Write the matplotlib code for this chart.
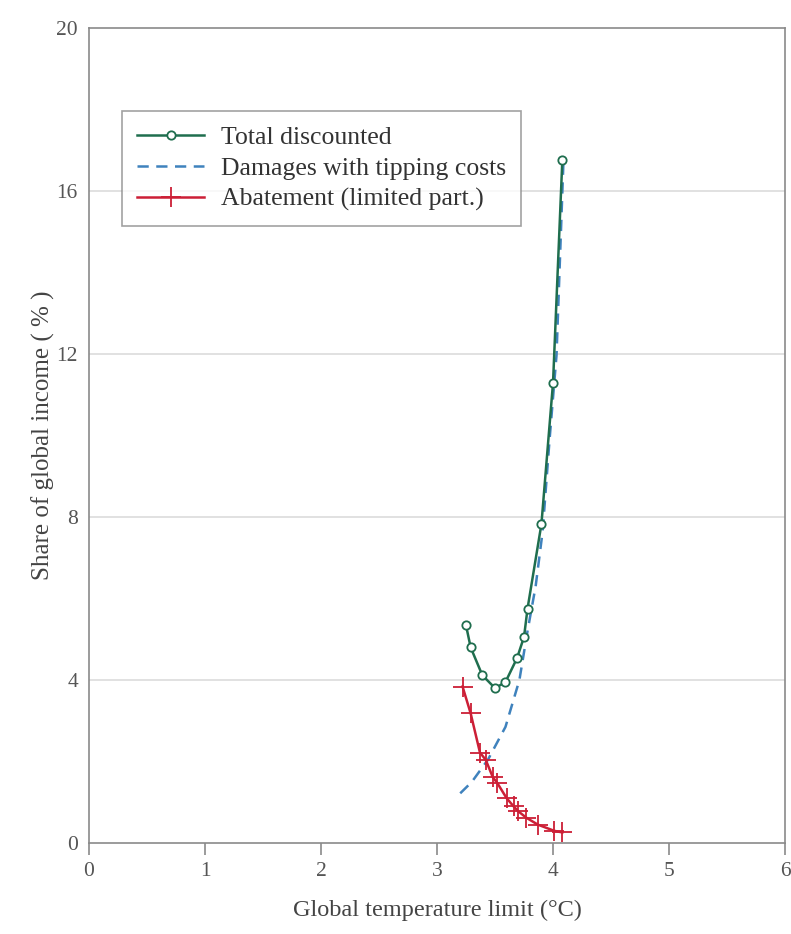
import numpy as np
import matplotlib
matplotlib.use("Agg")
import matplotlib.pyplot as plt

# 数据
total_x = [3.25, 3.29, 3.39, 3.50, 3.59, 3.69, 3.75, 3.78, 3.90, 4.00, 4.08]
total_y = [5.34, 4.80, 4.12, 3.80, 3.95, 4.54, 5.06, 5.75, 7.83, 11.30, 16.75]

damage_x = [3.20, 3.30, 3.44, 3.59, 3.71, 3.78, 3.85, 3.91, 3.97, 4.03, 4.09]
damage_y = [1.22, 1.50, 2.05, 2.85, 4.00, 5.20, 6.30, 7.64, 9.90, 11.97, 16.75]

abate_x = [3.22, 3.29, 3.37, 3.42, 3.48, 3.52, 3.60, 3.66, 3.70, 3.77, 3.87, 4.01, 4.08]
abate_y = [3.84, 3.18, 2.22, 2.04, 1.62, 1.47, 1.10, 0.90, 0.78, 0.62, 0.45, 0.30, 0.26]

x_ticks = [0, 1, 2, 3, 4, 5, 6]
y_ticks = [0, 4, 8, 12, 16, 20]

plt.rcParams['font.family'] = ['Liberation Serif', 'DejaVu Serif']

fig = plt.figure(figsize=(7.91, 9.34), dpi=100)
ax = fig.add_axes([0.1125, 0.0974, 0.88, 0.8726])

# 网格线
for y in y_ticks[1:-1]:
    ax.axhline(y, color='#dcdcdc', lw=1.2, zorder=0)

ax.plot(damage_x, damage_y, color='#3f82bd', lw=1.8, ls=(0, (4.5, 3)),
        label='Damages with tipping costs', zorder=2)
ax.plot(total_x, total_y, color='#1f6e4e', lw=1.8, marker='o', ms=6,
        mfc='white', mec='#1f6e4e', mew=1.3,
        label='Total discounted', zorder=3)
ax.plot(abate_x, abate_y, color='#cc1f36', lw=1.8, marker='+', ms=14,
        mew=1.3, label='Abatement (limited part.)', zorder=3)

ax.set_xlim(0, 6)
ax.set_ylim(0, 20)
ax.set_xticks(x_ticks)
ax.set_yticks(y_ticks)

for s in ax.spines.values():
    s.set_color('#8a8a8a')
    s.set_linewidth(1.2)

ax.tick_params(axis='x', direction='out', length=8.5, width=1.2, color='#8a8a8a',
               labelsize=15.5, labelcolor='#555555', pad=5)
ax.tick_params(axis='y', length=0, labelsize=15.5, labelcolor='#555555', pad=8)

ax.set_xlabel('Global temperature limit (°C)', fontsize=17.5, color='#444444', labelpad=14)
ax.set_ylabel('Share of global income ( % )', fontsize=18, color='#444444', labelpad=1)

handles, labels = ax.get_legend_handles_labels()
order = [1, 0, 2]
leg = ax.legend([handles[i] for i in order], [labels[i] for i in order],
                loc='upper left', bbox_to_anchor=(0.047, 0.8985),
                fontsize=18.5, frameon=True, fancybox=False, handlelength=2.6,
                borderpad=0.6, labelspacing=0.3, handletextpad=0.65,
                borderaxespad=0)
leg.get_frame().set_edgecolor('#8a8a8a')
leg.get_frame().set_linewidth(1.2)
for t in leg.get_texts():
    t.set_color('#333333')

fig.savefig('out.png', dpi=100)
